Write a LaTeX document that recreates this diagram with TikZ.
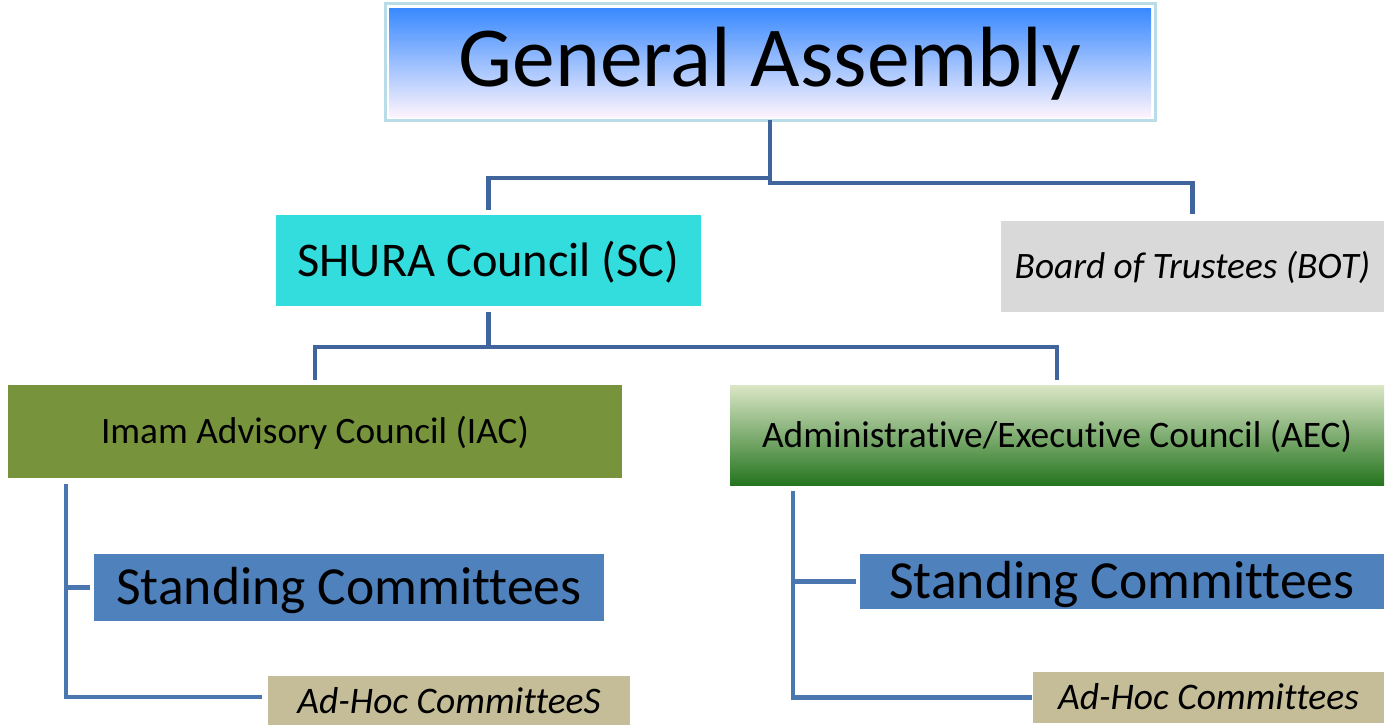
\documentclass[tikz,border=0pt]{standalone}
\usepackage{fontspec}
\setmainfont[Ligatures=NoCommon]{Carlito}
\usetikzlibrary{calc}

\definecolor{frameblue}{HTML}{B8DDE8}
\definecolor{gaTop}{HTML}{3A8AFF}
\definecolor{gaMid}{HTML}{A6D0FF}
\definecolor{gaBot}{HTML}{FDF4FD}
\definecolor{shura}{HTML}{33DDDD}
\definecolor{trustee}{HTML}{D9D9D9}
\definecolor{imam}{HTML}{77933C}
\definecolor{aecTop}{HTML}{DBE6C6}
\definecolor{aecMid}{HTML}{9DC17D}
\definecolor{aecBot}{HTML}{25751F}
\definecolor{standing}{HTML}{4F81BD}
\definecolor{adhoc}{HTML}{C4BD97}
\definecolor{linkTop}{HTML}{3F659C}
\definecolor{linkLow}{HTML}{4A77B0}

\begin{document}
\begin{tikzpicture}[x=1pt,y=-1pt,
  box/.style={anchor=north west, inner sep=0pt, outer sep=0pt,
    text depth=0pt, align=center},
  link/.style={draw=linkTop, line width=4.5pt},
  sublink/.style={draw=linkLow, line width=4.5pt}]
\useasboundingbox (0,0) rectangle (1390,725);
\fill[white] (0,0) rectangle (1390,725);

% top level: shaded panel inside a light frame
\shade[top color=gaTop, middle color=gaMid, bottom color=gaBot] (389,9) rectangle (1151,117);
\node[box, draw=frameblue, line width=3pt, minimum width=770, minimum height=116,
  text height=55pt, font=\fontsize{85.5}{90}\selectfont] (ga) at (385,4) {\raisebox{3pt}{General Assembly}};

% second level
\node[box, fill=shura, minimum width=425, minimum height=91,
  text height=31pt, font=\fontsize{48.4}{52}\selectfont] (sc) at (276,215) {SHURA Council (SC)};
\node[box, fill=trustee, minimum width=383, minimum height=91,
  text height=24pt, font=\fontsize{37.3}{40}\selectfont\itshape] (bot) at (1001,221) {Board of Trustees (BOT)};

% councils
\node[box, fill=imam, minimum width=614, minimum height=93,
  text height=24pt, font=\fontsize{37.3}{40}\selectfont] (iac) at (8,385) {Imam Advisory Council (IAC)};
\node[box, top color=aecTop, middle color=aecMid, bottom color=aecBot,
  minimum width=654, minimum height=100,
  text height=24pt, font=\fontsize{37.4}{40}\selectfont] (aec) at (730,385) {Administrative/Executive Council (AEC)};

% committees
\node[box, fill=standing, minimum width=510, minimum height=67,
  text height=34.5pt, font=\fontsize{53.6}{58}\selectfont] (st1) at (94,554) {Standing Committees};
\node[box, fill=adhoc, minimum width=362, minimum height=50,
  text height=24pt, font=\fontsize{37.5}{40}\selectfont\itshape] (ah1) at (268,676) {Ad-Hoc CommitteeS};
\node[box, fill=standing, minimum width=524, minimum height=55,
  text height=34.5pt, font=\fontsize{53.6}{58}\selectfont] (st2) at (860,554) {Standing Committees};
\node[box, fill=adhoc, minimum width=351, minimum height=51,
  text height=24pt, font=\fontsize{37.5}{40}\selectfont\itshape] (ah2) at (1033,672) {Ad-Hoc Committees};

% connectors from the General Assembly
\draw[link, shorten >=5pt] (ga.south) -- ++(0,58) -| (sc.north);
\draw[link, shorten >=7pt] (ga.south) -- ++(0,63) -| (bot.north);

% connectors from the SHURA Council
\draw[link, shorten <=6pt, shorten >=5pt] (sc.south) -- ++(0,41) -| (iac.north);
\draw[link, shorten <=6pt, shorten >=5pt] (sc.south) -- ++(0,41) -| (aec.north);

% committee trunks
\coordinate (t1) at ($(iac.south west)+(58,6)$);
\coordinate (t2) at ($(aec.south west)+(63,6)$);
\draw[sublink, shorten >=4pt] (t1) |- (st1.west);
\draw[sublink, shorten >=6pt] (t1) |- ($(ah1.west)+(0,-4)$);
\draw[sublink, shorten >=4pt] (t2) |- (st2.west);
\draw[sublink, shorten >=1pt] (t2) |- (ah2.west);
\end{tikzpicture}
\end{document}
